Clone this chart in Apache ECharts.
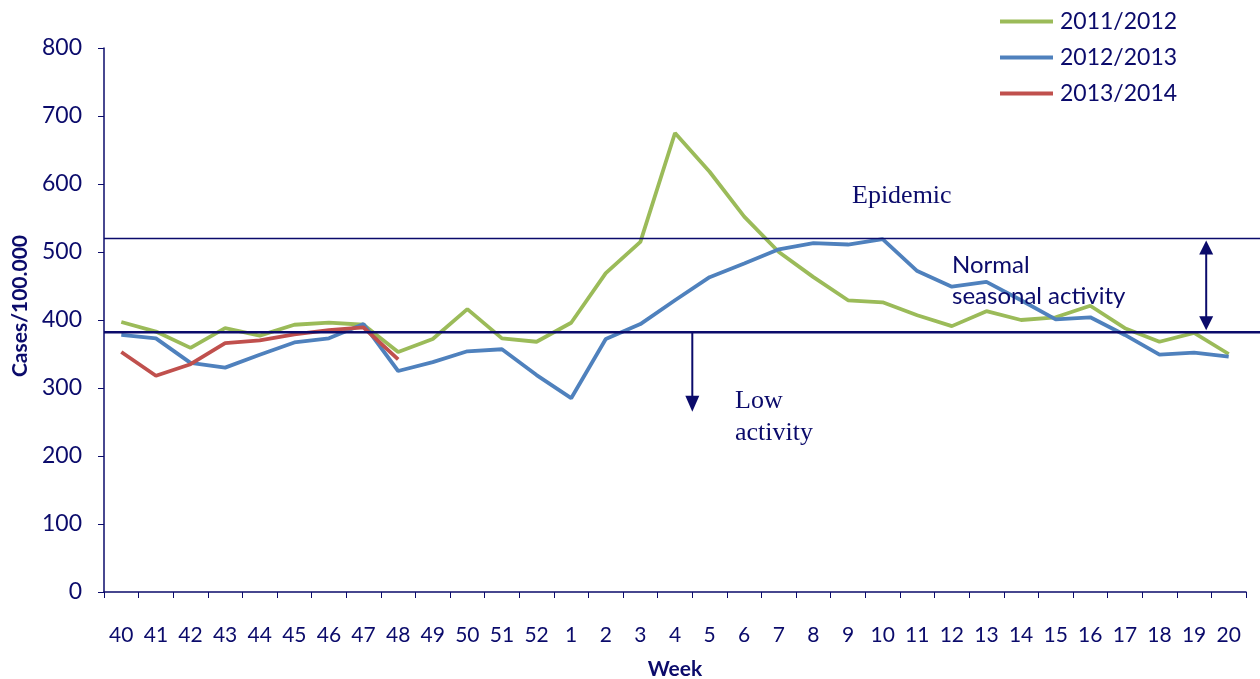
<!DOCTYPE html>
<html>
<head>
<meta charset="utf-8">
<script src="https://cdn.jsdelivr.net/npm/echarts@6/dist/echarts.min.js"></script>
<style>
html,body{margin:0;padding:0;background:#fff;}
#main{width:1260px;height:679px;}
</style>
</head>
<body>
<div id="main"></div>
<script>
var weeks = ['40','41','42','43','44','45','46','47','48','49','50','51','52','1','2','3','4','5','6','7','8','9','10','11','12','13','14','15','16','17','18','19','20'];
var s2011 = [397,383,359,388,377,393,396,393,353,372,416,373,368,396,469,515,675,618,552,500,463,429,426,407,391,413,400,404,421,388,368,381,350];
var s2012 = [378,373,337,330,349,367,373,394,325,338,354,357,319,285,372,394,429,463,483,504,513,511,519,472,449,456,429,401,404,378,349,352,346];
var s2013 = [353,318,335,366,370,379,385,389,342];
var yTicks = {min:0, max:800, interval:100};
var epidemicThreshold = 520;
var lowThreshold = 382;

var NAVY = '#0b0b6b';
var chart = echarts.init(document.getElementById('main'), null, {renderer:'canvas'});
var font = 'Lato, "Open Sans", sans-serif';
var serif = '"Liberation Serif", "DejaVu Serif", serif';

var option = {
  animation:false,
  backgroundColor:'#fff',
  grid:{left:104, right:14, top:48, bottom:87, containLabel:false, outerBoundsMode:'none'},
  legend:{
    orient:'vertical', left:995, top:5, itemGap:13,
    icon:'rect', itemWidth:53, itemHeight:4,
    textStyle:{color:NAVY, fontSize:23, fontFamily:font, padding:[0,0,0,2]},
    data:['2011/2012','2012/2013','2013/2014']
  },
  xAxis:{
    type:'category', data:weeks, boundaryGap:true,
    name:'Week', nameLocation:'middle', nameGap:67,
    nameTextStyle:{color:NAVY, fontSize:21, fontWeight:'bold', fontFamily:font},
    axisLine:{lineStyle:{color:NAVY, width:1.5}},
    axisTick:{show:true, length:6, lineStyle:{color:NAVY}},
    axisLabel:{interval:0, color:NAVY, fontSize:21, margin:33, fontFamily:font},
    splitLine:{show:false}
  },
  yAxis:{
    type:'value', min:yTicks.min, max:yTicks.max, interval:yTicks.interval,
    name:'Cases/100.000', nameLocation:'middle', nameGap:71, nameRotate:90,
    nameTextStyle:{color:NAVY, fontSize:21, fontWeight:'bold', fontFamily:font, padding:[0,0,0,28]},
    axisLine:{show:true, lineStyle:{color:NAVY, width:1.5}},
    axisTick:{show:true, length:6, lineStyle:{color:NAVY}},
    axisLabel:{color:NAVY, fontSize:23, margin:22, fontFamily:font},
    splitLine:{show:false}
  },
  series:[
    {name:'2011/2012', type:'line', data:s2011, symbol:'none', z:3, lineStyle:{color:'#9bbb59', width:3.8}, itemStyle:{color:'#9bbb59'}},
    {name:'2012/2013', type:'line', data:s2012, symbol:'none', z:4, lineStyle:{color:'#4f81bd', width:3.8}, itemStyle:{color:'#4f81bd'}},
    {name:'2013/2014', type:'line', data:s2013, symbol:'none', z:5, lineStyle:{color:'#c0504d', width:3.8}, itemStyle:{color:'#c0504d'}}
  ]
};
chart.setOption(option);

var yEp = chart.convertToPixel({yAxisIndex:0}, epidemicThreshold);
var yLow = chart.convertToPixel({yAxisIndex:0}, lowThreshold);
var yLowArrowEnd = chart.convertToPixel({yAxisIndex:0}, 265);
var x4 = chart.convertToPixel({xAxisIndex:0}, 16);
var x5 = chart.convertToPixel({xAxisIndex:0}, 17);
var xLowArrow = (x4 + x5) / 2;
var x19 = chart.convertToPixel({xAxisIndex:0}, 31);
var x20 = chart.convertToPixel({xAxisIndex:0}, 32);
var xDbl = x19 + (x20 - x19) * 0.35;
var gl = 104;

chart.setOption({
  graphic:[
    {type:'line', z:10, shape:{x1:gl, y1:yEp, x2:1260, y2:yEp}, style:{stroke:NAVY, lineWidth:1.5}},
    {type:'line', z:10, shape:{x1:gl, y1:yLow, x2:1260, y2:yLow}, style:{stroke:NAVY, lineWidth:2.5}},
    {type:'line', z:10, shape:{x1:xLowArrow, y1:yLow, x2:xLowArrow, y2:yLowArrowEnd-14}, style:{stroke:NAVY, lineWidth:2}},
    {type:'polygon', z:10, shape:{points:[[xLowArrow-7, yLowArrowEnd-16],[xLowArrow+7, yLowArrowEnd-16],[xLowArrow, yLowArrowEnd]]}, style:{fill:NAVY}},
    {type:'line', z:10, shape:{x1:xDbl, y1:yEp+14, x2:xDbl, y2:yLow-14}, style:{stroke:NAVY, lineWidth:2}},
    {type:'polygon', z:10, shape:{points:[[xDbl-7, yEp+16],[xDbl+7, yEp+16],[xDbl, yEp+2]]}, style:{fill:NAVY}},
    {type:'polygon', z:10, shape:{points:[[xDbl-7, yLow-16],[xDbl+7, yLow-16],[xDbl, yLow-2]]}, style:{fill:NAVY}},
    {type:'text', z:10, left:852, top:183, style:{text:'Epidemic', fill:NAVY, font:'26px ' + serif}},
    {type:'text', z:10, left:952, top:250, style:{text:'Normal\nseasonal activity', fill:NAVY, font:'24px ' + font, lineHeight:31}},
    {type:'text', z:10, left:735, top:385, style:{text:'Low\nactivity', fill:NAVY, font:'26px ' + serif, lineHeight:32}}
  ]
});
</script>
</body>
</html>
